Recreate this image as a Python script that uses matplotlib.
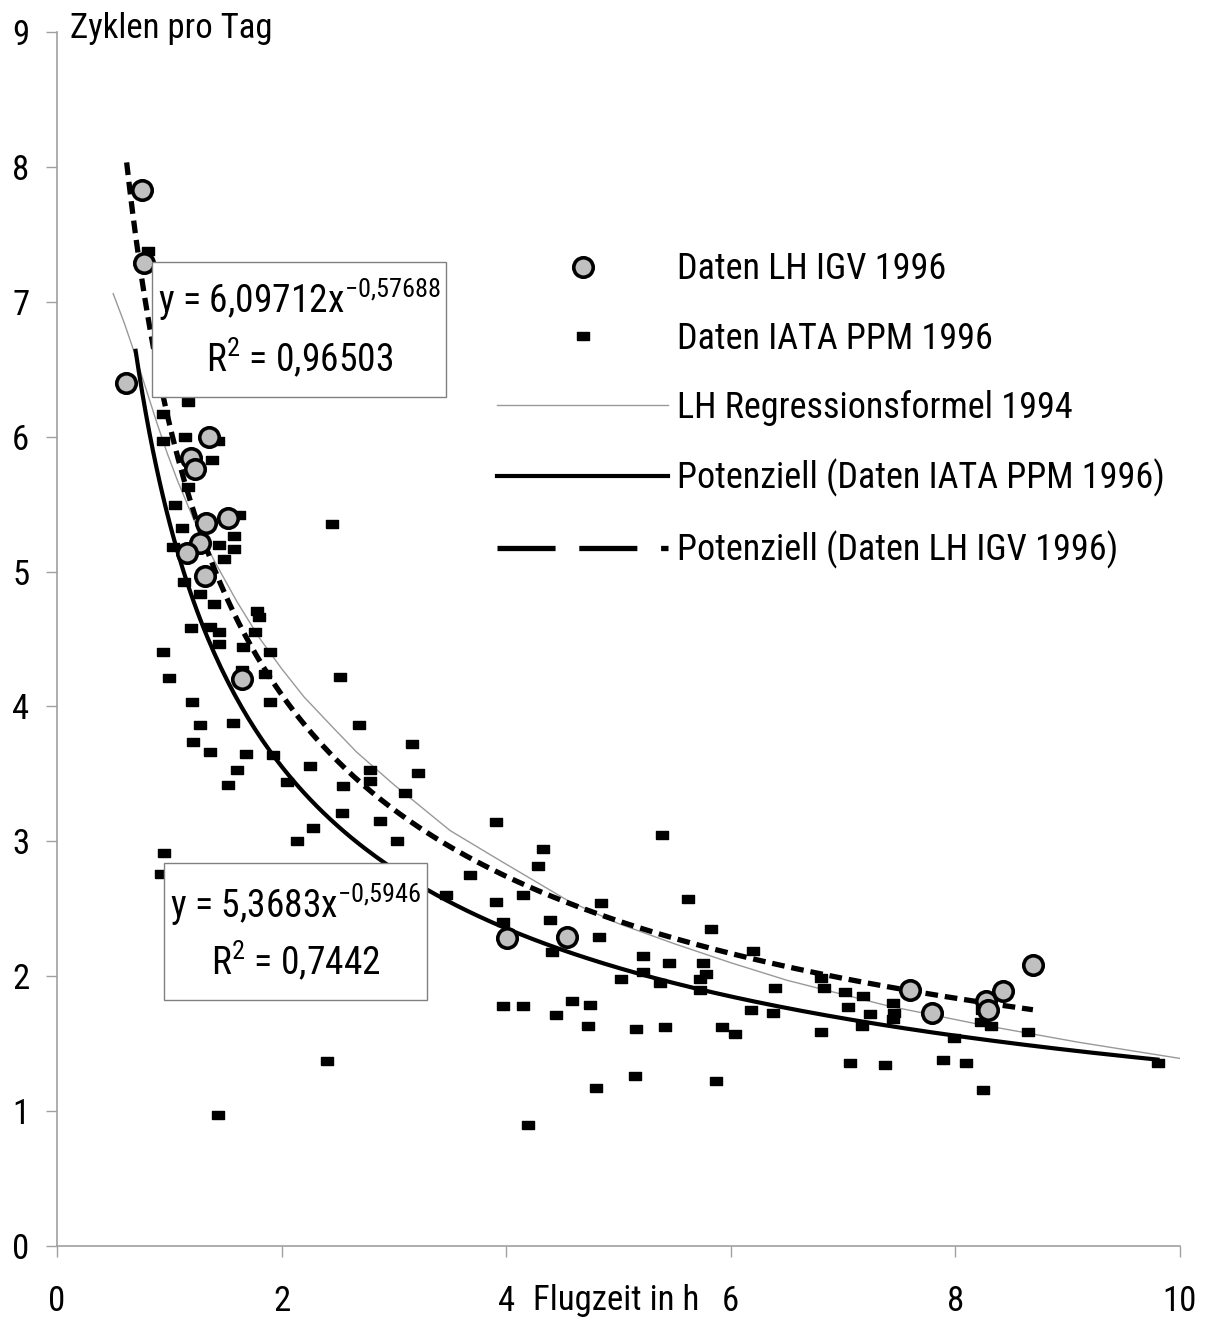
import matplotlib
matplotlib.use("Agg")
import matplotlib.pyplot as plt
from matplotlib.lines import Line2D
from matplotlib.patches import Rectangle
import numpy as np

plt.rcParams['font.family'] = ['Roboto Condensed', 'Archivo Narrow', 'PT Sans Narrow',
                               'Liberation Sans', 'DejaVu Sans']
plt.rcParams['mathtext.default'] = 'regular'

# Daten LH IGV 1996 (Flugzeit h, Zyklen pro Tag)
lh_x = [0.76, 0.77, 0.61, 1.35, 1.19, 1.23, 1.52, 1.33, 1.27, 1.16, 1.32, 1.65,
        4.01, 4.54, 7.60, 7.79, 8.27, 8.29, 8.42, 8.69]
lh_y = [7.83, 7.29, 6.40, 6.00, 5.84, 5.76, 5.40, 5.36, 5.21, 5.14, 4.97, 4.20,
        2.28, 2.29, 1.90, 1.73, 1.82, 1.75, 1.89, 2.08]

# Daten IATA PPM 1996
iata_x = [0.81, 0.94, 1.17, 0.94, 1.14, 1.43, 1.38, 1.17, 1.05, 1.11, 1.58, 1.58,
          1.44, 1.03, 1.62, 1.49, 2.45, 1.13, 1.27, 1.40, 1.78, 1.80, 1.19, 1.36,
          1.44, 1.76, 1.44, 1.90, 0.94, 1.66, 1.00, 2.52, 1.85, 1.65, 1.20, 1.90,
          1.27, 1.57, 2.69, 1.21, 1.36, 1.68, 1.92, 3.16, 1.60, 2.25, 2.79, 2.79,
          3.21, 1.52, 2.05, 2.55, 3.10, 2.54, 2.88, 2.28, 3.03, 2.14, 3.91, 0.95,
          0.93, 3.68, 3.46, 2.40, 1.43, 5.39, 4.33, 4.28, 4.15, 3.91, 4.84, 5.62,
          3.97, 4.39, 4.83, 5.82, 4.41, 5.22, 5.45, 5.75, 5.78, 5.73, 6.20, 5.02,
          5.22, 5.37, 5.73, 6.39, 3.97, 4.15, 4.59, 4.75, 4.44, 4.73, 5.16, 5.41,
          5.92, 6.04, 6.18, 6.38, 5.15, 5.87, 4.80, 4.19, 6.80, 6.83, 7.02, 7.18,
          7.04, 7.24, 7.44, 7.45, 7.17, 6.80, 7.06, 7.37, 7.89, 8.09, 7.99, 8.23,
          8.32, 8.65, 8.25, 9.80, 8.24, 7.44]
iata_y = [7.38, 6.17, 6.26, 5.97, 6.00, 5.97, 5.83, 5.63, 5.49, 5.32, 5.26, 5.17,
          5.20, 5.18, 5.42, 5.09, 5.35, 4.92, 4.83, 4.76, 4.71, 4.66, 4.58, 4.59,
          4.55, 4.55, 4.46, 4.40, 4.40, 4.44, 4.21, 4.22, 4.24, 4.27, 4.03, 4.03,
          3.86, 3.88, 3.86, 3.74, 3.66, 3.65, 3.64, 3.72, 3.53, 3.56, 3.53, 3.45,
          3.51, 3.42, 3.44, 3.41, 3.36, 3.21, 3.15, 3.10, 3.00, 3.00, 3.14, 2.91,
          2.76, 2.75, 2.60, 1.37, 0.97, 3.05, 2.94, 2.82, 2.60, 2.55, 2.54, 2.57,
          2.40, 2.42, 2.29, 2.35, 2.18, 2.15, 2.10, 2.10, 2.02, 1.98, 2.19, 1.98,
          2.03, 1.95, 1.90, 1.91, 1.78, 1.78, 1.82, 1.79, 1.71, 1.63, 1.61, 1.62,
          1.62, 1.57, 1.75, 1.73, 1.26, 1.22, 1.17, 0.90, 1.99, 1.91, 1.88, 1.85,
          1.77, 1.72, 1.80, 1.73, 1.63, 1.59, 1.36, 1.34, 1.38, 1.36, 1.54, 1.66,
          1.63, 1.59, 1.16, 1.36, 1.75, 1.68]

# LH Regressionsformel 1994
reg94_x = [0.50, 0.60, 0.69, 0.79, 0.89, 0.98, 1.07, 1.22, 1.40, 1.60, 1.80, 2.00, 2.20,
           2.45, 2.67, 3.00, 3.50, 3.92, 4.55, 5.00, 5.50, 6.00, 6.50, 7.40, 8.23, 9.10, 10.08]
reg94_y = [7.06, 6.84, 6.62, 6.36, 6.10, 5.88, 5.68, 5.38, 5.08, 4.78, 4.51, 4.28, 4.07,
           3.85, 3.66, 3.42, 3.08, 2.87, 2.56, 2.39, 2.24, 2.10, 1.97, 1.78, 1.64, 1.51, 1.38]

# Potenziell trend lines, coefficients as printed in the chart
iata_a, iata_b = 5.3683, -0.5946
lh_a, lh_b = 6.09712, -0.57688
iata_x0, iata_x1 = 0.70, 9.80
lh_x0, lh_x1 = 0.62, 8.69

fig = plt.figure(figsize=(12.11, 13.23), dpi=100)
ax = fig.add_axes([0.0471, 0.0582, 0.9273, 0.9176])
ax.set_xlim(0, 10)
ax.set_ylim(0, 9)

rect_marker = [(-1, -0.58), (1, -0.58), (1, 0.58), (-1, 0.58), (-1, -0.58)]

ax.plot(reg94_x, reg94_y, color='#999999', lw=1.0, zorder=2)

xs = np.linspace(iata_x0, iata_x1, 300)
ax.plot(xs, iata_a * xs ** iata_b, color='black', lw=3.0, zorder=3)
xs = np.linspace(lh_x0, lh_x1, 300)
ax.plot(xs, lh_a * xs ** lh_b, color='black', lw=3.8, dashes=(2.4, 1.3), zorder=3)

ax.plot(iata_x, iata_y, ls='none', marker=rect_marker, markersize=9,
        color='black', zorder=4)
ax.plot(lh_x, lh_y, ls='none', marker='o', markersize=14, markerfacecolor='#c0c0c0',
        markeredgecolor='black', markeredgewidth=2.6, zorder=5)

# axes styling
for s in ['top', 'right']:
    ax.spines[s].set_visible(False)
for s in ['left', 'bottom']:
    ax.spines[s].set_color('#a0a0a0')
    ax.spines[s].set_linewidth(1.2)
ax.set_xticks([0, 2, 4, 6, 8, 10])
ax.set_yticks(range(10))
ax.tick_params(axis='both', colors='#a0a0a0', labelcolor='black', length=8, width=1,
               labelsize=25)
ax.tick_params(axis='x', pad=20)
ax.tick_params(axis='y', pad=12)

ax.text(0.0116, 1.0033, 'Zyklen pro Tag', transform=ax.transAxes, fontsize=25,
        ha='left', va='center')
ax.text(0.424, -0.0445, 'Flugzeit in h', transform=ax.transAxes, fontsize=25,
        ha='left', va='center')

# equation boxes
ax.add_patch(Rectangle((0.0846, 0.6993), 0.2618, 0.1112, transform=ax.transAxes,
                       facecolor='white', edgecolor='#808080', lw=1, zorder=6))
ax.text(0.090, 0.779, r'y = 6,09712x$^{-0{,}57688}$', transform=ax.transAxes,
        fontsize=27, ha='left', va='center', zorder=7)
ax.text(0.216, 0.732, r'R$^{2}$ = 0,96503', transform=ax.transAxes,
        fontsize=27, ha='center', va='center', zorder=7)

ax.add_patch(Rectangle((0.0953, 0.2026), 0.2342, 0.1129, transform=ax.transAxes,
                       facecolor='white', edgecolor='#808080', lw=1, zorder=6))
ax.text(0.1006, 0.281, r'y = 5,3683x$^{-0{,}5946}$', transform=ax.transAxes,
        fontsize=27, ha='left', va='center', zorder=7)
ax.text(0.213, 0.2356, r'R$^{2}$ = 0,7442', transform=ax.transAxes,
        fontsize=27, ha='center', va='center', zorder=7)

handles = [
    Line2D([], [], ls='none', marker='o', markersize=14, markerfacecolor='#c0c0c0',
           markeredgecolor='black', markeredgewidth=2.6),
    Line2D([], [], ls='none', marker=rect_marker, markersize=9, color='black'),
    Line2D([], [], color='#999999', lw=1.0),
    Line2D([], [], color='black', lw=3.0),
    Line2D([], [], color='black', lw=3.8, dashes=(11, 4.5)),
]
labels = ['Daten LH IGV 1996', 'Daten IATA PPM 1996', 'LH Regressionsformel 1994',
          'Potenziell (Daten IATA PPM 1996)', 'Potenziell (Daten LH IGV 1996)']
ax.legend(handles, labels, loc='upper left', bbox_to_anchor=(0.392, 0.8193),
          frameon=False, fontsize=26, handlelength=4.74, handletextpad=0.25,
          labelspacing=0.92, borderpad=0, borderaxespad=0)

fig.savefig('out.png', dpi=100)
